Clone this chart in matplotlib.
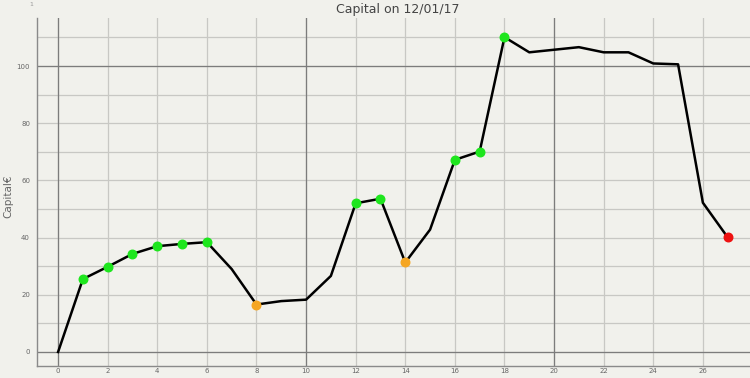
import matplotlib
matplotlib.use("Agg")
import matplotlib.pyplot as plt

# capital per step
steps = list(range(28))
capital = [0, 25.5, 29.8, 34.3, 37.0, 37.8, 38.4, 29.0, 16.6, 17.8, 18.3, 26.6,
           52.0, 53.6, 31.3, 42.8, 67.2, 70.1, 110.1, 104.8, 105.7, 106.6,
           104.8, 104.8, 100.9, 100.6, 52.2, 40.1]

green_steps = [1, 2, 3, 4, 5, 6, 12, 13, 16, 17, 18]
orange_steps = [8, 14]
red_steps = [27]

xticks = list(range(0, 28, 2))
yticks = [0, 20, 40, 60, 80, 100]

bg = "#f1f1ec"

fig = plt.figure(figsize=(7.5, 3.78), dpi=100, facecolor=bg)
ax = fig.add_axes([37 / 750, 12 / 378, 1 - 37 / 750, 348 / 378])
ax.set_facecolor(bg)

ax.set_xlim(-0.85, 27.9)
ax.set_ylim(-4.9, 116.8)

# grid
for x in range(0, 28, 2):
    ax.axvline(x, color="#c8c8c4", lw=0.9, zorder=0)
for y in range(0, 120, 10):
    ax.axhline(y, color="#c8c8c4", lw=0.9, zorder=0)
for x in [0, 10, 20]:
    ax.axvline(x, color="#7c7c7c", lw=0.9, zorder=0)
for y in [0, 100]:
    ax.axhline(y, color="#7c7c7c", lw=0.9, zorder=0)

ax.plot(steps, capital, color="black", lw=1.8, zorder=2)
ax.scatter(green_steps, [capital[i] for i in green_steps], s=38, color="#1ee61e", zorder=3)
ax.scatter(orange_steps, [capital[i] for i in orange_steps], s=38, color="#f5a623", zorder=3)
ax.scatter(red_steps, [capital[i] for i in red_steps], s=38, color="#ee1111", zorder=3)

ax.set_xticks(xticks)
ax.set_yticks(yticks)
ax.tick_params(length=0, labelsize=5, labelcolor="#666666")
ax.tick_params(axis="x", pad=1.5)
ax.tick_params(axis="y", pad=5)
for s in ["top", "right"]:
    ax.spines[s].set_visible(False)
for s in ["left", "bottom"]:
    ax.spines[s].set_color("#8a8a8a")
    ax.spines[s].set_linewidth(1.0)

fig.text(8 / 750, 1 - 196 / 378, "Capital€", rotation=90, ha="center", va="center",
         fontsize=7.5, color="#666666")
fig.text(398 / 750, 1 - 9 / 378, "Capital on 12/01/17", ha="center", va="center",
         fontsize=9, color="#444444")
fig.text(31 / 750, 1 - 4 / 378, "1", ha="center", va="center", fontsize=4.5, color="#999999")

fig.savefig("out.png", dpi=100, facecolor=bg)
